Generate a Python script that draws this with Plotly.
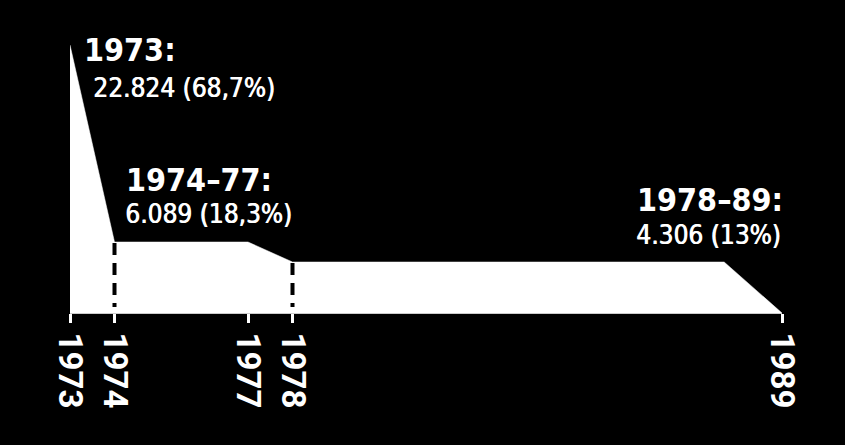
import plotly.graph_objects as go

# data
years = [1973, 1974, 1977, 1978, 1987.7, 1989]
heights = [268, 71, 71, 51, 51, 0]          # shape heights as drawn (illustrative)
tick_years = [1973, 1974, 1977, 1978, 1989]
tick_labels = ["1973", "1974", "1977", "1978", "1989"]
period_titles = ["1973:", "1974–77:", "1978–89:"]
period_values = ["22.824 (68,7%)", "6.089 (18,3%)", "4.306 (13%)"]
dash_years = [1974, 1978]
dash_tops = [71, 51]

fig = go.Figure()
fig.add_trace(go.Scatter(
    x=years, y=heights, mode="lines", fill="tozeroy",
    fillcolor="white", line=dict(color="white", width=0.5),
    hoverinfo="skip", showlegend=False))

for xv, top in zip(dash_years, dash_tops):
    fig.add_shape(type="line", x0=xv, x1=xv, y0=top - 1, y1=6,
                  xref="x", yref="y",
                  line=dict(color="black", width=4, dash="12px,8px"))

title_font = dict(family="DejaVu Sans Condensed", size=32, color="white", weight="bold")
value_font = dict(family="DejaVu Sans Condensed", size=26, color="white",
                  shadow="0.8px 0px 0px white")

# (title x, title y, title xshift, value x, value y, value xshift, anchor)
ann_pos = [
    (1973, 263, 12, 1973, 225, 21, "left"),
    (1974, 133, 9, 1974, 99, 8, "left"),
    (1989, 113, 3, 1989, 78, 1, "right"),
]
for (tx, ty, tsh, vx, vy, vsh, anc), t, v in zip(ann_pos, period_titles, period_values):
    fig.add_annotation(x=tx, y=ty, xref="x", yref="y", text=t, showarrow=False,
                       xanchor=anc, yanchor="middle", xshift=tsh, font=title_font)
    fig.add_annotation(x=vx, y=vy, xref="x", yref="y", text=v, showarrow=False,
                       xanchor=anc, yanchor="middle", xshift=vsh, font=value_font)

fig.update_xaxes(range=[1973, 1989], tickvals=tick_years, ticktext=tick_labels,
                 tickangle=90, ticks="outside", ticklen=9, tickwidth=3,
                 tickcolor="white", showline=True, linecolor="#cccccc", linewidth=1,
                 showgrid=False, zeroline=False, ticklabelstandoff=3,
                 tickfont=dict(family="Roboto", size=33, color="white", weight="bold"))
fig.update_yaxes(range=[0, 300], visible=False, showgrid=False, zeroline=False)

fig.update_layout(width=845, height=445, paper_bgcolor="black", plot_bgcolor="black",
                  margin=dict(l=70, r=63, t=13, b=132), showlegend=False)

fig.write_html("out.html")
